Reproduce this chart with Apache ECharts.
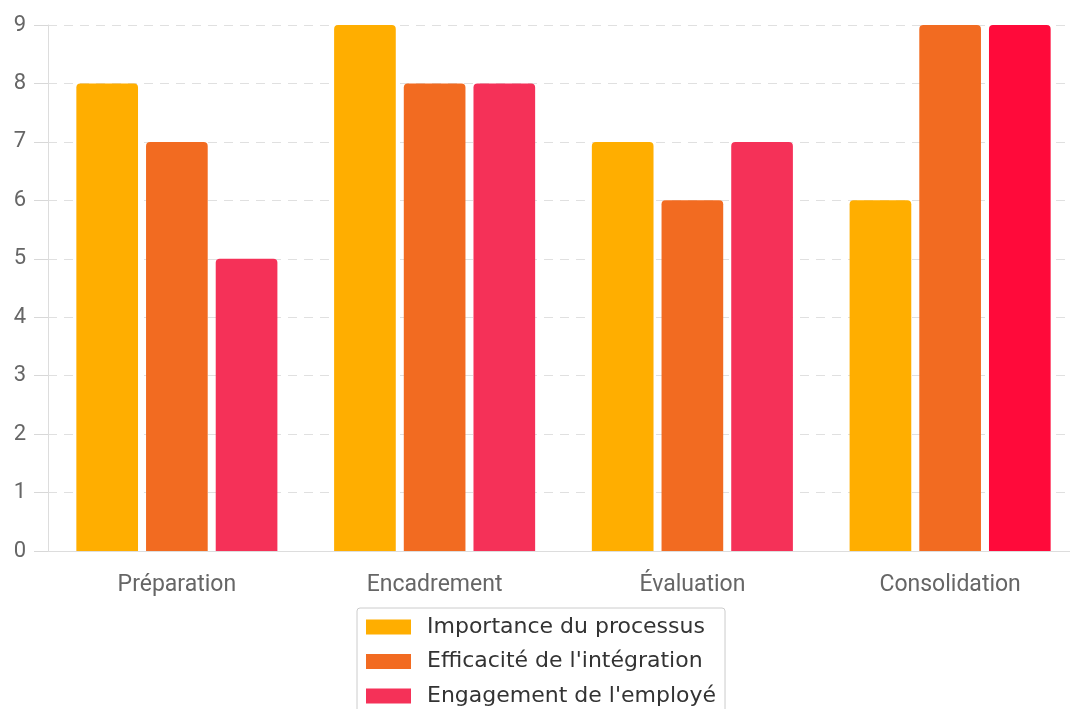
<!DOCTYPE html>
<html>
<head>
<meta charset="utf-8">
<script src="https://cdn.jsdelivr.net/npm/echarts@6/dist/echarts.min.js"></script>
<style>
html,body{margin:0;padding:0;background:#fff;overflow:hidden;}
#chart{width:1080px;height:709px;}
</style>
</head>
<body>
<div id="chart"></div>
<script>
// Phases of the onboarding process and their scores (0-9)
const categories = ['Préparation', 'Encadrement', 'Évaluation', 'Consolidation'];
const seriesNames = ['Importance du processus', "Efficacité de l'intégration", "Engagement de l'employé"];
const importance = [8, 9, 7, 6];
const efficacite = [7, 8, 6, 9];
const engagement = [5, 8, 7, 9];
const yTicks = [0, 1, 2, 3, 4, 5, 6, 7, 8, 9];

const colors = ['#FFAE00', '#F26B21', '#F53158'];
const highlightColor = '#FF0A3A';

const chart = echarts.init(document.getElementById('chart'), null, {renderer: 'canvas'});

function barSeries(name, values, color, highlightIndex) {
  return {
    name: name,
    type: 'bar',
    barGap: '13%',
    barCategoryGap: '22%',
    itemStyle: {color: color, borderRadius: [4, 4, 0, 0]},
    data: values.map((v, i) => i === highlightIndex
      ? {value: v, itemStyle: {color: highlightColor}}
      : v)
  };
}

chart.setOption({
  animation: false,
  color: colors,
  grid: {left: 48, top: 25, right: 1, height: 526, containLabel: false},
  xAxis: {
    type: 'category',
    data: categories,
    axisLine: {lineStyle: {color: '#dddddd'}},
    axisTick: {show: false},
    axisLabel: {color: '#666666', fontSize: 23, fontFamily: 'Roboto', margin: 23}
  },
  yAxis: {
    type: 'value',
    min: 0,
    max: 9,
    interval: 1,
    axisLine: {show: true, lineStyle: {color: '#dddddd'}},
    axisTick: {show: true, length: 14, lineStyle: {color: '#d8d8d8'}},
    axisLabel: {
      color: '#666666', fontSize: 22, fontFamily: 'Roboto', margin: 22,
      formatter: v => yTicks.includes(v) ? String(v) : ''
    },
    splitLine: {lineStyle: {color: '#e0e0e0', type: [9, 7]}}
  },
  legend: {
    orient: 'vertical',
    left: 357,
    top: 608,
    height: 140,
    padding: [8, 9, 8, 9],
    itemWidth: 45,
    itemHeight: 15,
    itemGap: 12.5,
    borderColor: '#cccccc',
    borderWidth: 1,
    borderRadius: 3,
    icon: 'rect',
    textStyle: {color: '#333333', fontSize: 22, fontFamily: 'DejaVu Sans', padding: [0, 0, 0, 11], lineHeight: 22},
    data: seriesNames
  },
  series: [
    barSeries(seriesNames[0], importance, colors[0], -1),
    barSeries(seriesNames[1], efficacite, colors[1], -1),
    barSeries(seriesNames[2], engagement, colors[2], 3)
  ]
});
</script>
</body>
</html>
